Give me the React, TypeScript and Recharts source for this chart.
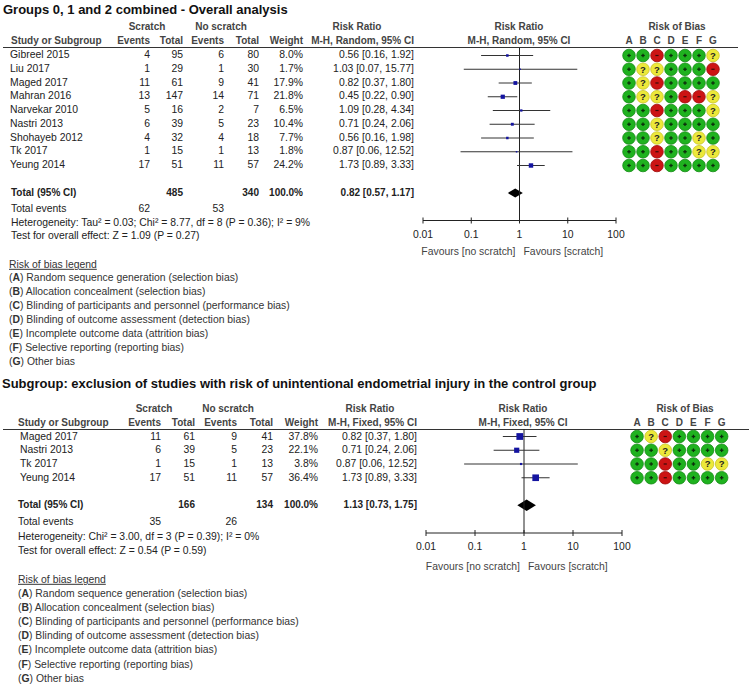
import React from 'react';
import { ComposedChart, ScatterChart, Scatter, XAxis, YAxis, ReferenceLine, ReferenceArea } from 'recharts';

// ---- data: overall analysis ----
const studies1 = ['Gibreel 2015', 'Liu 2017', 'Maged 2017', 'Mahran 2016', 'Narvekar 2010', 'Nastri 2013', 'Shohayeb 2012', 'Tk 2017', 'Yeung 2014'];
const scratchEvents1 = [4, 1, 11, 13, 5, 6, 4, 1, 17];
const scratchTotal1 = [95, 29, 61, 147, 16, 39, 32, 15, 51];
const noScratchEvents1 = [6, 1, 9, 14, 2, 5, 4, 1, 11];
const noScratchTotal1 = [80, 30, 41, 71, 7, 23, 18, 13, 57];
const weight1 = [8.0, 1.7, 17.9, 21.8, 6.5, 10.4, 7.7, 1.8, 24.2];
const rr1 = [0.56, 1.03, 0.82, 0.45, 1.09, 0.71, 0.56, 0.87, 1.73];
const lo1 = [0.16, 0.07, 0.37, 0.22, 0.28, 0.24, 0.16, 0.06, 0.89];
const hi1 = [1.92, 15.77, 1.80, 0.90, 4.34, 2.06, 1.98, 12.52, 3.33];
const bias1 = ['++-+++?', '+??+++-', '+?-++++', '+??+--?', '++-+++?', '++?++++', '++?++?+', '++-++??', '++-++++'];
const totals1 = [485, 340];
const totalEvents1 = [62, 53];
const pooled1 = [0.82, 0.57, 1.17];
const hetero1 = 'Heterogeneity: Tau² = 0.03; Chi² = 8.77, df = 8 (P = 0.36); I² = 9%';
const effect1 = 'Test for overall effect: Z = 1.09 (P = 0.27)';

// ---- data: subgroup ----
const studies2 = ['Maged 2017', 'Nastri 2013', 'Tk 2017', 'Yeung 2014'];
const scratchEvents2 = [11, 6, 1, 17];
const scratchTotal2 = [61, 39, 15, 51];
const noScratchEvents2 = [9, 5, 1, 11];
const noScratchTotal2 = [41, 23, 13, 57];
const weight2 = [37.8, 22.1, 3.8, 36.4];
const rr2 = [0.82, 0.71, 0.87, 1.73];
const lo2 = [0.37, 0.24, 0.06, 0.89];
const hi2 = [1.80, 2.06, 12.52, 3.33];
const bias2 = ['+?-++++', '++?++++', '++-++??', '++-++++'];
const totals2 = [166, 134];
const totalEvents2 = [35, 26];
const pooled2 = [1.13, 0.73, 1.75];
const hetero2 = 'Heterogeneity: Chi² = 3.00, df = 3 (P = 0.39); I² = 0%';
const effect2 = 'Test for overall effect: Z = 0.54 (P = 0.59)';

const axisTicks = [0.01, 0.1, 1, 10, 100];
const biasLetters = ['A', 'B', 'C', 'D', 'E', 'F', 'G'];
const biasLegend = [
  'Random sequence generation (selection bias)',
  'Allocation concealment (selection bias)',
  'Blinding of participants and personnel (performance bias)',
  'Blinding of outcome assessment (detection bias)',
  'Incomplete outcome data (attrition bias)',
  'Selective reporting (reporting bias)',
  'Other bias',
];

const FONT = '"Liberation Sans", Arial, sans-serif';
const fmt = (v: number) => v.toFixed(2);
const ci = (r: number, l: number, h: number) => `${fmt(r)} [${fmt(l)}, ${fmt(h)}]`;

type TP = { x: number; y: number; a?: 'l' | 'r' | 'c'; b?: boolean; s?: number; c?: string; u?: boolean; children: React.ReactNode };
function T({ x, y, a = 'l', b, s, c, u, children }: TP) {
  const tx = a === 'l' ? '0' : a === 'r' ? '-100%' : '-50%';
  return (
    <div style={{
      position: 'absolute', left: x, top: y, transform: `translate(${tx},-50%)`, whiteSpace: 'nowrap',
      fontSize: s ?? (b ? 10 : 10.4), fontWeight: b ? 'bold' : 'normal', color: c ?? '#222', lineHeight: 1,
      textDecoration: u ? 'underline' : undefined,
    }}>{children}</div>
  );
}

const biasFill: Record<string, string> = { '+': '#1fb21f', '?': '#ece83a', '-': '#cc1414' };
const biasEdge: Record<string, string> = { '+': '#178a17', '?': '#c8c42a', '-': '#a00e0e' };

function BiasDot(props: any) {
  const { cx, cy, payload } = props;
  const v = payload.v;
  return (
    <g>
      <circle cx={cx} cy={cy} r={6.3} fill={biasFill[v]} stroke={biasEdge[v]} strokeWidth={0.8} />
      {v === '+' && (
        <g stroke="#0c2c0c" strokeWidth={1.3}>
          <line x1={cx - 1.8} x2={cx + 1.8} y1={cy} y2={cy} />
          <line x1={cx} x2={cx} y1={cy - 1.8} y2={cy + 1.8} />
        </g>
      )}
      {v === '-' && <line x1={cx - 1.6} x2={cx + 1.6} y1={cy} y2={cy} stroke="#3a0a0a" strokeWidth={1.2} />}
      {v === '?' && (
        <text x={cx} y={cy + 3.4} textAnchor="middle" fontSize={9.5} fontWeight="bold" fill="#222" fontFamily={FONT}>?</text>
      )}
    </g>
  );
}

type Geo = {
  title: string; titleX: number; titleY: number; lineY: number; lineX2: number; y0: number; dy: number;
  totalIdx: number; axisY: number; plotL: number; plotR: number; nameX: number; headX: number; legendX: number;
  cols: number[]; scratchC: number; noScratchC: number; rrHeadC: number; forestC: number;
  biasX0: number; biasDx: number; biasHeadC: number; method: string; favY: number; after: number[];
  legendDy: number; diamondH: number; sqK: number;
};

type PanelData = {
  names: string[]; e1: number[]; n1: number[]; e2: number[]; n2: number[]; w: number[];
  rr: number[]; lo: number[]; hi: number[]; bias: string[]; totals: number[]; events: number[];
  pooled: number[]; hetero: string; effect: string;
};

function Panel({ g, d }: { g: Geo; d: PanelData }) {
  const rowY = (i: number) => g.y0 + g.dy * i;
  const yMin = (g.lineY - g.y0) / g.dy;
  const yMax = (g.axisY - g.y0) / g.dy;
  const squares = d.rr.map((r, i) => ({ x: r, y: i, w: d.w[i] }));
  const dots: { x: number; y: number; v: string }[] = [];
  d.bias.forEach((s, i) => s.split('').forEach((v, k) => dots.push({ x: k, y: i, v })));
  const mL = 20;
  const x1 = (g.plotL + g.plotR) / 2;
  const h1 = g.lineY - 20.5;
  const h2 = g.lineY - 6.5;
  const tY = rowY(g.totalIdx);

  const Tick = (p: any) => (
    <g>
      <line x1={p.x} x2={p.x} y1={p.y - 3} y2={p.y + 3} stroke="#222" />
      <text x={p.x} y={p.y + 17} textAnchor="middle" fontSize={10.4} fill="#222" fontFamily={FONT}>{p.payload.value}</text>
    </g>
  );

  const Diamond = (p: any) => {
    const { x, y, width, height } = p;
    const cx = x + width / 2;
    const cy = y + height / 2;
    return <polygon points={`${x},${cy} ${cx},${y} ${x + width},${cy} ${cx},${y + height}`} fill="#000" />;
  };

  const Square = (p: any) => {
    const s = Math.max(1.5, g.sqK * Math.sqrt(p.payload.w));
    return <rect x={p.cx - s / 2} y={p.cy - s / 2} width={s} height={s} fill="#1414a0" />;
  };

  return (
    <>
      <T x={g.titleX} y={g.titleY} b s={13} c="#111">{g.title}</T>
      {/* header row 1 */}
      <T x={g.scratchC} y={h1} a="c" b c="#444">Scratch</T>
      <T x={g.noScratchC} y={h1} a="c" b c="#444">No scratch</T>
      <T x={g.rrHeadC} y={h1} a="c" b c="#444">Risk Ratio</T>
      <T x={g.forestC} y={h1} a="c" b c="#444">Risk Ratio</T>
      <T x={g.biasHeadC} y={h1} a="c" b c="#444">Risk of Bias</T>
      {/* header row 2 */}
      <T x={g.headX} y={h2} b c="#444">Study or Subgroup</T>
      <T x={g.cols[1]} y={h2} a="r" b c="#444">Events</T>
      <T x={g.cols[2]} y={h2} a="r" b c="#444">Total</T>
      <T x={g.cols[3]} y={h2} a="r" b c="#444">Events</T>
      <T x={g.cols[4]} y={h2} a="r" b c="#444">Total</T>
      <T x={g.cols[5]} y={h2} a="r" b c="#444">Weight</T>
      <T x={g.cols[6]} y={h2} a="r" b c="#444">{g.method}</T>
      <T x={g.forestC} y={h2} a="c" b c="#444">{g.method}</T>
      {biasLetters.map((l, k) => (
        <T key={l} x={g.biasX0 + k * g.biasDx} y={h2} a="c" b c="#444">{l}</T>
      ))}
      <div style={{ position: 'absolute', left: 3, top: g.lineY - 0.5, width: g.lineX2 - 3, height: 1, background: '#333' }} />

      {/* study rows */}
      {d.names.map((n, i) => (
        <React.Fragment key={n}>
          <T x={g.nameX} y={rowY(i)}>{n}</T>
          <T x={g.cols[1]} y={rowY(i)} a="r">{d.e1[i]}</T>
          <T x={g.cols[2]} y={rowY(i)} a="r">{d.n1[i]}</T>
          <T x={g.cols[3]} y={rowY(i)} a="r">{d.e2[i]}</T>
          <T x={g.cols[4]} y={rowY(i)} a="r">{d.n2[i]}</T>
          <T x={g.cols[5]} y={rowY(i)} a="r">{d.w[i].toFixed(1)}%</T>
          <T x={g.cols[6]} y={rowY(i)} a="r">{ci(d.rr[i], d.lo[i], d.hi[i])}</T>
        </React.Fragment>
      ))}

      {/* totals */}
      <T x={g.headX} y={tY} b>Total (95% CI)</T>
      <T x={g.cols[2]} y={tY} a="r" b>{d.totals[0]}</T>
      <T x={g.cols[4]} y={tY} a="r" b>{d.totals[1]}</T>
      <T x={g.cols[5]} y={tY} a="r" b>100.0%</T>
      <T x={g.cols[6]} y={tY} a="r" b>{ci(d.pooled[0], d.pooled[1], d.pooled[2])}</T>
      <T x={g.headX} y={g.after[0]}>Total events</T>
      <T x={g.cols[1]} y={g.after[0]} a="r">{d.events[0]}</T>
      <T x={g.cols[3]} y={g.after[0]} a="r">{d.events[1]}</T>
      <T x={g.headX} y={g.after[1]}>{d.hetero}</T>
      <T x={g.headX} y={g.after[2]}>{d.effect}</T>
      <T x={g.legendX} y={g.after[3]} u c="#333">Risk of bias legend</T>
      {biasLegend.map((txt, k) => (
        <T key={k} x={g.legendX} y={g.after[4] + k * g.legendDy} c="#333">
          (<b>{biasLetters[k]}</b>) {txt}
        </T>
      ))}

      <T x={x1 - 4} y={g.favY} a="r" c="#444">Favours [no scratch]</T>
      <T x={x1 + 4} y={g.favY} c="#444">Favours [scratch]</T>

      {/* forest plot */}
      <div style={{ position: 'absolute', left: g.plotL - mL, top: g.lineY }}>
        <ComposedChart width={g.plotR - g.plotL + 2 * mL} height={g.axisY - g.lineY + 30}
          margin={{ top: 0, right: mL, left: mL, bottom: 0 }}>
          <XAxis dataKey="x" type="number" scale="log" domain={[0.01, 100]} allowDataOverflow ticks={axisTicks}
            height={30} tickSize={0} tickMargin={0} tickLine={false} axisLine={{ stroke: '#222' }} tick={Tick} interval={0} />
          <YAxis dataKey="y" type="number" domain={[yMin, yMax]} reversed hide width={0} allowDataOverflow />
          <ReferenceLine x={1} stroke="#222" />
          {d.rr.map((r, i) => (
            <ReferenceLine key={i} segment={[{ x: d.lo[i], y: i }, { x: d.hi[i], y: i }]} stroke="#333" />
          ))}
          <Scatter data={squares} shape={Square} isAnimationActive={false} />
          <ReferenceArea x1={d.pooled[1]} x2={d.pooled[2]} y1={g.totalIdx - g.diamondH} y2={g.totalIdx + g.diamondH}
            shape={Diamond} />
        </ComposedChart>
      </div>

      {/* risk of bias grid */}
      <div style={{ position: 'absolute', left: g.biasX0 - g.biasDx / 2, top: g.lineY }}>
        <ScatterChart width={7 * g.biasDx} height={g.axisY - g.lineY} margin={{ top: 0, right: 0, left: 0, bottom: 0 }}>
          <XAxis dataKey="x" type="number" domain={[-0.5, 6.5]} hide height={0} />
          <YAxis dataKey="y" type="number" domain={[yMin, yMax]} reversed hide width={0} />
          <Scatter data={dots} shape={BiasDot} isAnimationActive={false} />
        </ScatterChart>
      </div>
    </>
  );
}

const geo1: Geo = {
  title: 'Groups 0, 1 and 2 combined - Overall analysis', titleX: 3, titleY: 8.5, lineY: 47.5, lineX2: 738,
  y0: 55, dy: 13.75, totalIdx: 10, axisY: 220, plotL: 423, plotR: 616, nameX: 10, headX: 11, legendX: 9,
  cols: [10, 150, 183, 224, 259, 303, 414], scratchC: 147, noScratchC: 221, rrHeadC: 357, forestC: 519,
  biasX0: 629, biasDx: 14, biasHeadC: 677, method: 'M-H, Random, 95% CI', favY: 252,
  after: [208.5, 222.5, 236, 265, 278], legendDy: 14, diamondH: 0.33, sqK: 0.9,
};

const geo2: Geo = {
  title: 'Subgroup: exclusion of studies with risk of unintentional endometrial injury in the control group',
  titleX: 2, titleY: 383, lineY: 429, lineX2: 749, y0: 436.5, dy: 13.75, totalIdx: 5, axisY: 533,
  plotL: 426, plotR: 622, nameX: 20, headX: 18, legendX: 18,
  cols: [20, 161, 195, 237, 273, 318, 417], scratchC: 154, noScratchC: 228, rrHeadC: 370, forestC: 523,
  biasX0: 637, biasDx: 14.1, biasHeadC: 685, method: 'M-H, Fixed, 95% CI', favY: 567,
  after: [522, 537, 551, 580, 594], legendDy: 14.1, diamondH: 0.42, sqK: 1.1,
};

const data1: PanelData = {
  names: studies1, e1: scratchEvents1, n1: scratchTotal1, e2: noScratchEvents1, n2: noScratchTotal1, w: weight1,
  rr: rr1, lo: lo1, hi: hi1, bias: bias1, totals: totals1, events: totalEvents1, pooled: pooled1, hetero: hetero1, effect: effect1,
};
const data2: PanelData = {
  names: studies2, e1: scratchEvents2, n1: scratchTotal2, e2: noScratchEvents2, n2: noScratchTotal2, w: weight2,
  rr: rr2, lo: lo2, hi: hi2, bias: bias2, totals: totals2, events: totalEvents2, pooled: pooled2, hetero: hetero2, effect: effect2,
};

export default function App() {
  return (
    <div style={{ position: 'absolute', left: 0, top: 0, width: 749, height: 685, background: '#fff', fontFamily: FONT, overflow: 'hidden' }}>
      <Panel g={geo1} d={data1} />
      <Panel g={geo2} d={data2} />
    </div>
  );
}
